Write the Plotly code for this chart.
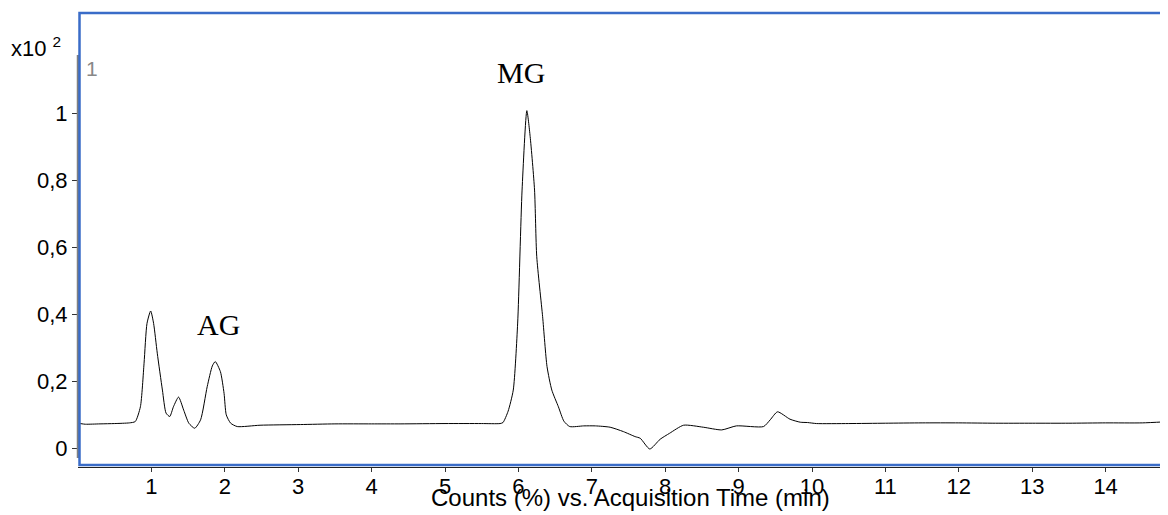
import plotly.graph_objects as go

# Chromatogram trace (time in min, counts x10^2)
time_min = [0.03, 0.1, 0.3, 0.5, 0.7, 0.78, 0.85, 0.90, 0.94, 0.99, 1.03, 1.08, 1.15, 1.20, 1.25,
            1.30, 1.37, 1.44, 1.51, 1.59, 1.67, 1.76, 1.83, 1.87, 1.94, 1.99, 2.02, 2.08, 2.17,
            2.48, 3.03, 3.5, 4.0, 4.4, 5.0, 5.5, 5.75, 5.79, 5.86, 5.93, 5.99, 6.05, 6.115, 6.16,
            6.22, 6.25, 6.33, 6.39, 6.455, 6.545, 6.62, 6.70, 6.89, 7.05, 7.25, 7.43, 7.59, 7.66,
            7.79, 7.93, 8.06, 8.25, 8.52, 8.77, 8.97, 9.34, 9.43, 9.53, 9.70, 9.84, 9.94, 10.06,
            10.5, 11.0, 11.5, 12.0, 12.5, 13.0, 13.5, 14.0, 14.5, 14.8]
counts = [0.073, 0.071, 0.072, 0.073, 0.075, 0.079, 0.123, 0.253, 0.372, 0.409, 0.372, 0.283, 0.173,
          0.104, 0.094, 0.123, 0.152, 0.113, 0.074, 0.059, 0.084, 0.183, 0.245, 0.258, 0.228, 0.163,
          0.099, 0.074, 0.064, 0.068, 0.070, 0.072, 0.072, 0.072, 0.073, 0.073, 0.073, 0.076, 0.11,
          0.173, 0.373, 0.77, 1.007, 0.93, 0.77, 0.571, 0.392, 0.243, 0.173, 0.123, 0.08, 0.064,
          0.066, 0.066, 0.062, 0.049, 0.034, 0.029, -0.003, 0.026, 0.044, 0.068, 0.062, 0.054,
          0.066, 0.064, 0.084, 0.108, 0.086, 0.077, 0.076, 0.073, 0.073, 0.074, 0.075, 0.075,
          0.074, 0.074, 0.074, 0.075, 0.075, 0.078]

x_ticks = list(range(1, 15))
x_ticklabels = [str(v) for v in x_ticks]
y_ticks = [0, 0.2, 0.4, 0.6, 0.8, 1.0]
y_ticklabels = ["0", "0,2", "0,4", "0,6", "0,8", "1"]

peak_labels = ["AG", "MG"]
peak_label_x = [1.92, 6.03]
peak_label_y = [0.37, 1.12]

# page body has an 8px margin, so the figure is 8px smaller than the window
W, H = 1160, 507
L, R, T, B = 70, 0, 5, 48
PW, PH = W - L - R, H - T - B
OFF = 8


def px(xpix):
    return (xpix - OFF - L) / PW


def py(ypix):
    return (H - B - (ypix - OFF)) / PH


fig = go.Figure()
fig.add_trace(go.Scatter(x=time_min, y=counts, mode="lines",
                         line=dict(color="black", width=1, shape="spline", smoothing=0.6),
                         showlegend=False, hoverinfo="skip"))

for t, ax, ay in zip(peak_labels, peak_label_x, peak_label_y):
    fig.add_annotation(x=ax, y=ay, text=t, showarrow=False,
                       font=dict(family="Liberation Serif", size=30, color="black"))

fig.update_layout(
    width=W, height=H,
    margin=dict(l=L, r=R, t=T, b=B, pad=0),
    paper_bgcolor="white", plot_bgcolor="white",
    font=dict(family="Liberation Sans, Arial", color="black", size=22),
    xaxis=dict(range=[0, 14.85], tickvals=x_ticks, ticktext=x_ticklabels,
               showgrid=False, zeroline=False, showline=True, linecolor="#222", linewidth=1,
               ticks="", tickfont=dict(size=22),
               minor=dict(tickvals=x_ticks, ticks="outside", ticklen=4, tickcolor="#333",
                          showgrid=False)),
    yaxis=dict(range=[-0.0567, 1.2985], tickvals=y_ticks, ticktext=y_ticklabels,
               showgrid=False, zeroline=False, showline=False,
               ticks="outside", ticklen=5, tickcolor="#333", tickfont=dict(size=22)),
    shapes=[
        dict(type="line", xref="paper", yref="y", x0=0, x1=0, y0=-0.03, y1=1.173,
             line=dict(color="#808080", width=2.5)),
        dict(type="rect", xref="paper", yref="paper", x0=px(79.5), x1=1.01, y0=py(465), y1=py(13),
             line=dict(color="#3a6cc8", width=2.5)),
        dict(type="line", xref="paper", yref="paper", x0=px(1165), x1=px(1168), y0=py(62), y1=py(62),
             line=dict(color="#888", width=2)),
    ],
)

fig.add_annotation(xref="paper", yref="paper", x=px(9), y=py(47),
                   text="x10 <sup>2</sup>", showarrow=False, xanchor="left", yanchor="middle",
                   font=dict(size=22, color="black"))
fig.add_annotation(xref="paper", yref="paper", x=px(84), y=py(68),
                   text="1", showarrow=False, xanchor="left", yanchor="middle",
                   font=dict(size=21, color="#888"))
fig.add_annotation(xref="paper", yref="paper", x=px(630), y=py(497),
                   text="Counts (%) vs. Acquisition Time (min)", showarrow=False,
                   xanchor="center", yanchor="middle", font=dict(size=24, color="black"))

fig.write_html("out.html")
